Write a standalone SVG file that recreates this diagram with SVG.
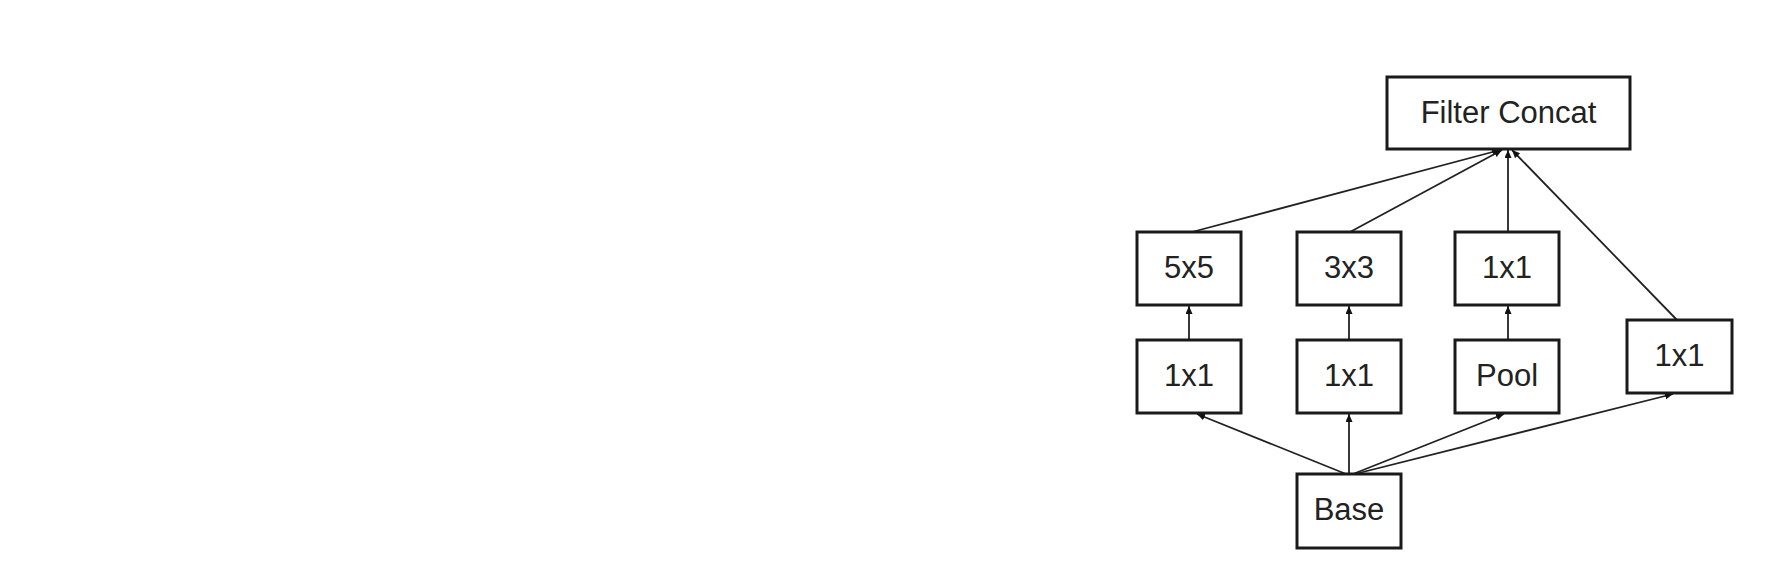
<svg xmlns="http://www.w3.org/2000/svg" width="1774" height="570" viewBox="0 0 1774 570">
<defs>
<style>
.box{fill:#fff;stroke:#1a1a1a;stroke-width:3}
.lbl{font-family:"Liberation Sans",Arial,sans-serif;font-size:31px;fill:#222;text-anchor:middle}
.conn{stroke:#222;stroke-width:1.8;fill:none;marker-end:url(#ah)}
</style>
<marker id="ah" markerUnits="userSpaceOnUse" markerWidth="9" markerHeight="8" refX="8" refY="3.5" orient="auto">
<path d="M0,0 L8,3.5 L0,7 z" fill="#111"/>
</marker>
</defs>
<rect width="1774" height="570" fill="#fff"/>
<g id="connectors">
<line class="conn" x1="1192" y1="232" x2="1500" y2="150"/>
<line class="conn" x1="1350" y1="232" x2="1502" y2="150"/>
<line class="conn" x1="1508" y1="232" x2="1508" y2="150"/>
<line class="conn" x1="1677" y1="320" x2="1512" y2="150"/>
<line class="conn" x1="1189" y1="340" x2="1189" y2="306"/>
<line class="conn" x1="1349" y1="340" x2="1349" y2="306"/>
<line class="conn" x1="1508" y1="340" x2="1508" y2="306"/>
<line class="conn" x1="1346" y1="474" x2="1197" y2="414"/>
<line class="conn" x1="1349" y1="474" x2="1349" y2="414"/>
<line class="conn" x1="1353" y1="474" x2="1504" y2="414"/>
<line class="conn" x1="1355" y1="474" x2="1673" y2="394"/>
</g>
<g id="filter-concat">
<rect class="box" x="1387" y="77" width="243" height="72"/>
<text class="lbl" x="1508.5" y="123">Filter Concat</text>
</g>
<g id="conv5x5">
<rect class="box" x="1137" y="232" width="104" height="73"/>
<text class="lbl" x="1189" y="278">5x5</text>
</g>
<g id="conv3x3">
<rect class="box" x="1297" y="232" width="104" height="73"/>
<text class="lbl" x="1349" y="278">3x3</text>
</g>
<g id="conv1x1-top">
<rect class="box" x="1455" y="232" width="104" height="73"/>
<text class="lbl" x="1507" y="278">1x1</text>
</g>
<g id="reduce1x1-a">
<rect class="box" x="1137" y="340" width="104" height="73"/>
<text class="lbl" x="1189" y="386">1x1</text>
</g>
<g id="reduce1x1-b">
<rect class="box" x="1297" y="340" width="104" height="73"/>
<text class="lbl" x="1349" y="386">1x1</text>
</g>
<g id="pool">
<rect class="box" x="1455" y="340" width="104" height="73"/>
<text class="lbl" x="1507" y="386">Pool</text>
</g>
<g id="conv1x1-right">
<rect class="box" x="1627" y="320" width="105" height="73"/>
<text class="lbl" x="1679.5" y="366">1x1</text>
</g>
<g id="base">
<rect class="box" x="1297" y="474" width="104" height="74"/>
<text class="lbl" x="1349" y="520">Base</text>
</g>
</svg>
